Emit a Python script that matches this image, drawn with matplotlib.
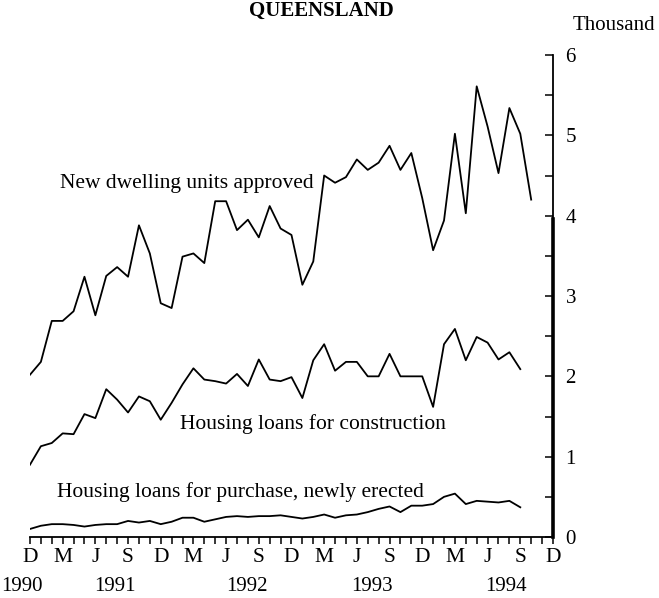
import numpy as np
import matplotlib
matplotlib.use("Agg")
import matplotlib.pyplot as plt

plt.rcParams['font.family'] = ['Liberation Serif', 'DejaVu Serif']

# monthly, Dec 1990 = month 0
dwellings = [2.02, 2.18, 2.69, 2.69, 2.81, 3.24, 2.76, 3.25, 3.36, 3.24,
             3.88, 3.53, 2.91, 2.85, 3.49, 3.53, 3.41, 4.18, 4.18, 3.82,
             3.95, 3.73, 4.12, 3.84, 3.76, 3.14, 3.43, 4.50, 4.41, 4.48,
             4.70, 4.57, 4.66, 4.87, 4.57, 4.78, 4.22, 3.57, 3.94, 5.02,
             4.03, 5.61, 5.11, 4.53, 5.34, 5.02, 4.20]
construction = [0.90, 1.13, 1.17, 1.29, 1.28, 1.53, 1.48, 1.84, 1.71, 1.55,
                1.75, 1.69, 1.46, 1.67, 1.90, 2.10, 1.96, 1.94, 1.91, 2.03,
                1.88, 2.21, 1.96, 1.94, 1.99, 1.73, 2.20, 2.40, 2.07, 2.18,
                2.18, 2.00, 2.00, 2.28, 2.00, 2.00, 2.00, 1.62, 2.40, 2.59,
                2.20, 2.49, 2.42, 2.21, 2.30, 2.09]
purchase = [0.10, 0.14, 0.16, 0.16, 0.15, 0.13, 0.15, 0.16, 0.16, 0.20,
            0.18, 0.20, 0.16, 0.19, 0.24, 0.24, 0.19, 0.22, 0.25, 0.26,
            0.25, 0.26, 0.26, 0.27, 0.25, 0.23, 0.25, 0.28, 0.24, 0.27,
            0.28, 0.31, 0.35, 0.38, 0.31, 0.39, 0.39, 0.41, 0.50, 0.54,
            0.41, 0.45, 0.44, 0.43, 0.45, 0.37]

month_labels = ['D', 'M', 'J', 'S'] * 4 + ['D']
years = ['1990', '1991', '1992', '1993', '1994']
year_pos = [-0.7, 7.8, 19.9, 31.4, 43.7]

fig = plt.figure(figsize=(6.59, 5.98), dpi=100)
ax = fig.add_axes([0.0455, 0.102, 0.7936, 0.806])

lw = 1.3
ax.plot(np.arange(len(dwellings)), dwellings, color='black', lw=lw)
ax.plot(np.arange(len(construction)), construction, color='black', lw=lw)
ax.plot(np.arange(len(purchase)), purchase, color='black', lw=lw)

ax.set_xlim(0, 48)
ax.set_ylim(0, 6)

for s in ['left', 'top']:
    ax.spines[s].set_visible(False)
ax.spines['bottom'].set_linewidth(1.3)
ax.spines['right'].set_linewidth(1.3)
ax.axvline(48, ymin=0, ymax=0.66, color='black', lw=2.6, clip_on=False)

ax.set_xticks(np.arange(0, 49, 3))
ax.set_xticklabels(month_labels, fontsize=15.5)
ax.set_xticks(np.arange(0, 49, 1), minor=True)
ax.tick_params(axis='x', which='both', direction='out', length=5, width=1.1, pad=3)

ax.yaxis.tick_right()
ax.set_yticks(np.arange(0, 7, 1))
ax.set_yticklabels([str(i) for i in range(7)], fontsize=15)
ax.set_yticks(np.arange(0.5, 6, 1), minor=True)
ax.tick_params(axis='y', which='both', direction='in', length=6, width=1.1, pad=9)

for y, p in zip(years, year_pos):
    ax.text(p, -0.62, y, ha='center', va='center', fontsize=15)

ax.text(2.8, 4.4, 'New dwelling units approved', fontsize=15.5, va='center')
ax.text(13.8, 1.41, 'Housing loans for construction', fontsize=15.5, va='center')
ax.text(2.5, 0.56, 'Housing loans for purchase, newly erected', fontsize=15.5, va='center')

fig.text(0.995, 0.958, 'Thousand', ha='right', va='center', fontsize=15)
fig.text(0.487, 0.999, 'QUEENSLAND', ha='center', va='top', fontsize=15, fontweight='bold')

fig.savefig('out.png', dpi=100, facecolor='white')
